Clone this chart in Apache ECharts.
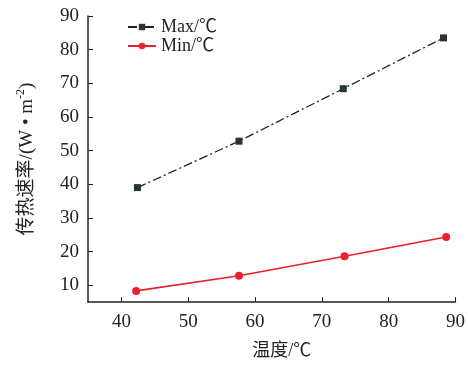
<!DOCTYPE html>
<html>
<head>
<meta charset="utf-8">
<script src="https://cdn.jsdelivr.net/npm/echarts@6/dist/echarts.min.js"></script>
<style>
  html, body { margin: 0; padding: 0; background: #fff; }
  #chart { width: 468px; height: 365px; }
</style>
</head>
<body>
<div id="chart"></div>
<script>
// Heat transfer rate versus temperature
const maxTemps = [42.4, 57.6, 73.2, 88.2];
const maxRates = [39.0, 52.8, 68.4, 83.5];
const minTemps = [42.2, 57.6, 73.4, 88.6];
const minRates = [8.3, 12.8, 18.6, 24.3];
const xTicks = [40, 50, 60, 70, 80, 90];
const yTicks = [10, 20, 30, 40, 50, 60, 70, 80, 90];
const seriesNames = ['Max/℃', 'Min/℃'];

const serif = '"Liberation Serif", "Times New Roman", serif';
const mixed = '"Liberation Serif", "Noto Sans CJK SC", serif';
const axisColor = '#222';

const chart = echarts.init(document.getElementById('chart'));
chart.setOption({
  animation: false,
  backgroundColor: '#fff',
  grid: { left: 88, right: 11, top: 16, bottom: 62 },
  legend: {
    left: 122, top: 13, orient: 'vertical', itemGap: 1,
    itemWidth: 28, itemHeight: 8,
    textStyle: { fontFamily: mixed, fontSize: 18, color: '#222' },
    data: seriesNames
  },
  xAxis: {
    type: 'value', min: 35, max: 90,
    name: '温度/℃', nameLocation: 'middle', nameGap: 40,
    nameTextStyle: { fontFamily: mixed, fontSize: 18, color: '#222', padding: [0, 0, 0, 20] },
    axisLine: { show: true, lineStyle: { color: axisColor, width: 1.5 } },
    axisTick: { show: true, inside: true, length: 5, customValues: xTicks, lineStyle: { color: axisColor } },
    axisLabel: { customValues: xTicks, fontFamily: serif, fontSize: 19, color: '#222', margin: 11 },
    splitLine: { show: false }
  },
  yAxis: {
    type: 'value', min: 5, max: 90,
    name: '{a|传热速率/(W • m}{s|-2}{a|)}', nameLocation: 'middle', nameGap: 49, nameRotate: 90,
    nameTextStyle: {
      rich: {
        a: { fontFamily: mixed, fontSize: 19, color: '#222' },
        s: { fontFamily: serif, fontSize: 12, color: '#222', verticalAlign: 'top', padding: [0, 0, 12, 0] }
      }
    },
    axisLine: { show: true, lineStyle: { color: axisColor, width: 1.5 } },
    axisTick: { show: true, inside: true, length: 5, customValues: yTicks, lineStyle: { color: axisColor } },
    axisLabel: { customValues: yTicks, fontFamily: serif, fontSize: 19, color: '#222', margin: 9 },
    splitLine: { show: false }
  },
  series: [
    {
      name: seriesNames[0], type: 'line',
      data: maxTemps.map((t, i) => [t, maxRates[i]]),
      symbol: 'rect', symbolSize: 7,
      itemStyle: { color: '#263636' },
      lineStyle: { color: '#222', width: 1.3, type: [9, 3, 2, 3] }
    },
    {
      name: seriesNames[1], type: 'line',
      data: minTemps.map((t, i) => [t, minRates[i]]),
      symbol: 'circle', symbolSize: 8,
      itemStyle: { color: '#e8212b' },
      lineStyle: { color: '#e8212b', width: 1.6 }
    }
  ]
});
</script>
</body>
</html>
